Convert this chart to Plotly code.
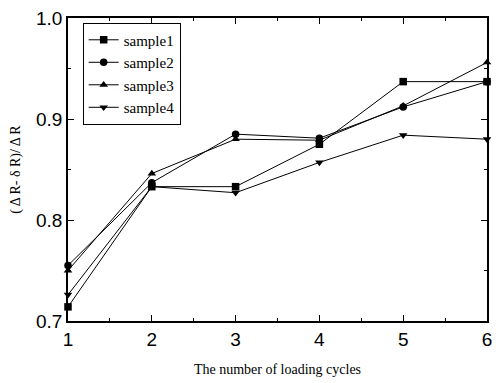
import plotly.graph_objects as go

cycles = [1, 2, 3, 4, 5, 6]
sample1 = [0.714, 0.833, 0.833, 0.875, 0.937, 0.937]
sample2 = [0.755, 0.837, 0.885, 0.881, 0.912, 0.937]
sample3 = [0.750, 0.846, 0.880, 0.879, 0.913, 0.956]
sample4 = [0.726, 0.833, 0.827, 0.857, 0.884, 0.880]
names = ["sample1", "sample2", "sample3", "sample4"]
symbols = ["square", "circle", "triangle-up", "triangle-down"]
series = [sample1, sample2, sample3, sample4]

fig = go.Figure()
for nm, sym, ys in zip(names, symbols, series):
    fig.add_trace(go.Scatter(
        x=cycles, y=ys, name=nm, mode="lines+markers",
        line=dict(color="black", width=1),
        marker=dict(symbol=sym, size=7.5, color="black"),
        cliponaxis=False,
    ))

axis_common = dict(
    showline=True, linecolor="black", linewidth=1.5, mirror="ticks",
    ticks="inside", ticklen=6, tickcolor="black", tickwidth=1,
    showgrid=False, zeroline=False,
    tickfont=dict(family="Liberation Sans", size=19, color="black"),
)
fig.update_xaxes(range=[1, 6], dtick=1, tick0=1,
                 minor=dict(dtick=0.5, ticks="inside", ticklen=3, tickcolor="black"),
                 title=dict(text="The number of loading cycles",
                            font=dict(family="Liberation Serif", size=14, color="black"),
                            standoff=16),
                 **axis_common)
fig.update_yaxes(range=[0.7, 1.0], dtick=0.1, tick0=0.7, tickformat=".1f",
                 minor=dict(dtick=0.05, ticks="inside", ticklen=3, tickcolor="black"),
                 title=dict(text="( Δ R- δ R)/ Δ R",
                            font=dict(family="Liberation Serif", size=14, color="black"),
                            standoff=12),
                 **axis_common)
fig.update_layout(
    width=500, height=383,
    margin=dict(l=68, r=8, t=16, b=55),
    plot_bgcolor="white", paper_bgcolor="white",
    legend=dict(x=0.035, y=0.985, xanchor="left", yanchor="top",
                bordercolor="black", borderwidth=1, bgcolor="white",
                font=dict(family="Liberation Serif", size=15, color="black"),
                itemwidth=30, tracegroupgap=0),
    showlegend=True,
)
fig.write_html("out.html")
